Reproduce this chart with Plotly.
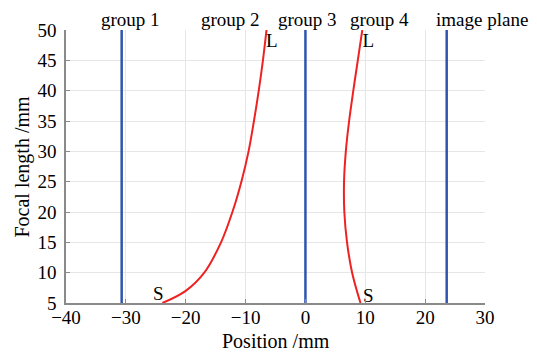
import plotly.graph_objects as go

# Data
g2_pos = [-23.9, -20.0, -16.9, -14.1, -12.2, -10.7, -9.5, -8.6, -7.8, -7.1, -6.5]
g2_f = [5.0, 7.0, 10.0, 15.0, 20.0, 25.0, 30.0, 35.0, 40.0, 45.0, 50.0]
g4_pos = [9.2, 7.8, 6.95, 6.5, 6.45, 6.75, 7.3, 8.0, 8.75, 9.5]
g4_f = [5.0, 10.0, 15.0, 20.0, 25.0, 30.0, 35.0, 40.0, 45.0, 50.0]
fixed_names = ["group 1", "group 3", "image plane"]
fixed_pos = [-30.7, 0.0, 23.6]
label_names = ["group 1", "group 2", "group 3", "group 4", "image plane"]
label_pos = [-29.3, -12.6, 0.3, 12.4, 29.5]
end_text = ["S", "L", "S", "L"]
end_x = [-24.6, -5.6, 10.5, 10.5]
end_y = [6.2, 48.0, 6.0, 48.0]
x_ticks = [-40, -30, -20, -10, 0, 10, 20, 30]
y_ticks = [5, 10, 15, 20, 25, 30, 35, 40, 45, 50]

FONT = "Liberation Serif"
BLUE = "#2f55b0"
RED = "#ee2222"

fig = go.Figure()
for name, xp in zip(fixed_names, fixed_pos):
    fig.add_trace(go.Scatter(x=[xp, xp], y=[5, 50], mode="lines",
                             line=dict(color=BLUE, width=2.5), name=name,
                             showlegend=False))
fig.add_trace(go.Scatter(x=g2_pos, y=g2_f, mode="lines",
                         line=dict(color=RED, width=2, shape="spline"),
                         showlegend=False))
fig.add_trace(go.Scatter(x=g4_pos, y=g4_f, mode="lines",
                         line=dict(color=RED, width=2, shape="spline"),
                         showlegend=False))
fig.add_trace(go.Scatter(x=end_x, y=end_y, mode="text", text=end_text,
                         textfont=dict(family=FONT, size=19, color="black"),
                         showlegend=False))

for name, xp in zip(label_names, label_pos):
    fig.add_annotation(x=xp, xref="x", y=1.038, yref="paper", text=name,
                       showarrow=False, yanchor="middle", xanchor="center",
                       font=dict(family=FONT, size=19, color="black"))

fig.add_annotation(x=0.5, xref="paper", y=-0.14, yref="paper",
                   text="Position /mm", showarrow=False, yanchor="middle",
                   font=dict(family=FONT, size=20, color="black"))
fig.add_annotation(x=-0.105, xref="paper", y=0.5, yref="paper",
                   text="Focal length /mm", showarrow=False, textangle=-90,
                   xanchor="center", yanchor="middle",
                   font=dict(family=FONT, size=20, color="black"))

axis_common = dict(showgrid=True, gridcolor="#e6e6e6", gridwidth=1,
                   showline=True, linecolor="#8a8a8a", linewidth=1.5,
                   ticks="inside", ticklen=4, tickcolor="#8a8a8a",
                   tickfont=dict(family=FONT, size=19, color="black"),
                   zeroline=False, mirror=False)

# page body has an 8px default margin: size/left/top margins compensate for it
fig.update_layout(
    width=529, height=344,
    margin=dict(l=58, r=52, t=22, b=49),
    paper_bgcolor="white", plot_bgcolor="white",
    xaxis=dict(range=[-40, 30], tickvals=x_ticks,
               ticktext=[("\u2212" + str(-v)) if v < 0 else str(v) for v in x_ticks],
               ticklabelstandoff=-4, **axis_common),
    yaxis=dict(range=[5, 50], tickvals=y_ticks, ticklabelstandoff=4,
               **axis_common),
)

fig.write_html("out.html")
